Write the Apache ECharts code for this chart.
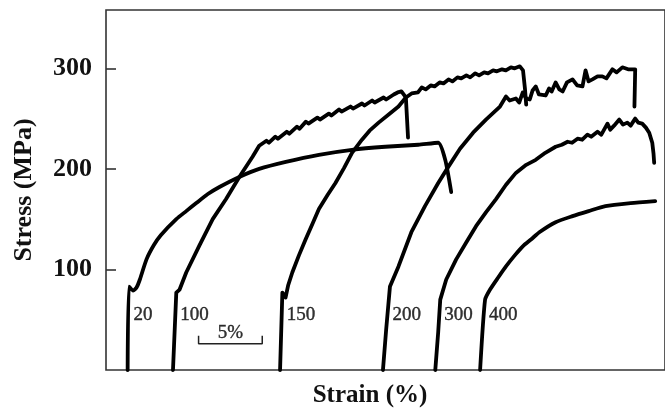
<!DOCTYPE html>
<html>
<head>
<meta charset="utf-8">
<script src="https://cdn.jsdelivr.net/npm/echarts@6/dist/echarts.min.js"></script>
<style>
  html, body { margin: 0; padding: 0; background: #fff; }
  #chart { width: 665px; height: 413px; }
</style>
</head>
<body>
<div id="chart"></div>
<script>
// Tensile stress–strain curves at several test temperatures (°C).
// Each curve is shifted along the strain axis; points are [strain %, stress MPa].
const curveNames = ['20', '100', '150', '200', '300', '400'];

const curve20 = [[1.70,0],[1.80,83],[2.13,79],[2.40,82],[2.66,90],[3.18,110],[3.75,124],[4.3,134],
  [5.52,150],[6.3,158],[7.09,166],[8.0,175],[8.91,182],[10.47,192],[12.03,200],[14.12,207],
  [16.72,214],[19.32,219],[21.93,222],[24.53,224],[26.09,226],[26.64,209],[27.11,177]];

const curve100 = [[5.26,0],[5.52,77],[5.78,80],[6.3,97],[7.34,124],[8.38,150],[9.43,170],
  [10.47,192],[11.51,212],[12.03,223],[12.6,228],[12.8,226],[13.3,232],[13.5,230],[14.2,237],
  [14.4,235],[15.0,242],[15.2,240],[15.7,247],[15.9,245],[16.6,251],[16.8,249],[17.5,255],
  [17.7,253],[18.3,259],[18.5,257],[19.2,262],[19.4,260],[20.1,265],[20.3,263],[20.9,268],
  [21.1,266],[21.8,271],[22.0,269],[22.6,274],[22.9,276],[23.2,277],[23.55,271],[23.72,231]];

const curve150 = [[13.67,0],[13.85,77],[14.1,72],[14.3,84],[14.63,97],[15.15,114],[15.68,130],
  [16.2,145],[16.72,160],[17.4,174],[18.02,186],[18.7,201],[19.32,216],[20.1,229],[20.7,238],
  [21.41,246],[22.2,254],[22.97,262],[23.55,271],[24.0,275],[24.5,276],[24.8,281],[25.1,279],
  [25.5,283],[25.8,282],[26.2,286],[26.5,285],[26.9,289],[27.2,287],[27.6,291],[27.9,290],
  [28.3,293],[28.6,291],[29.0,295],[29.3,293],[29.7,296],[30.0,295],[30.4,298],[30.7,297],
  [31.1,299],[31.4,298],[31.8,301],[32.1,300],[32.5,302],[32.75,298],[32.9,280],[33.0,264]];

const curve200 = [[21.75,0],[22.0,40],[22.3,83],[22.97,103],[23.98,137],[25.05,163],[26.09,186],
  [26.88,202],[27.8,220],[28.83,236],[29.84,249],[30.94,262],[31.41,272],[31.7,268],[32.19,270],
  [32.45,266],[32.73,276],[33.0,270],[33.28,269],[33.5,278],[33.75,282],[34.0,274],[34.53,273],
  [34.8,280],[35.0,277],[35.31,286],[35.6,279],[35.86,277],[36.2,286],[36.64,289],[37.0,283],
  [37.42,282],[37.66,298],[37.9,287],[38.2,289],[38.6,292],[38.98,292],[39.3,290],[39.77,299],
  [40.1,296],[40.55,301],[41.0,299],[41.56,299],[41.5,262]];

const curve300 = [[25.86,0],[26.09,38],[26.25,70],[26.72,90],[27.5,110],[28.3,127],[29.06,143],
  [29.85,157],[30.63,170],[31.4,184],[32.19,196],[33.0,204],[33.75,209],[34.5,216],[35.31,222],
  [35.8,224],[36.25,227],[36.6,226],[37.03,230],[37.4,229],[37.81,234],[38.1,232],[38.6,237],
  [38.9,234],[39.38,245],[39.6,239],[39.9,243],[40.31,249],[40.6,244],[40.94,246],[41.2,243],
  [41.56,250],[41.8,246],[42.11,245],[42.4,241],[42.66,236],[42.9,226],[43.0,215],[43.05,206]];

const curve400 = [[29.38,0],[29.77,70],[30.16,80],[30.8,92],[31.41,103],[32.1,114],[32.73,123],
  [33.4,130],[34.03,137],[35.31,147],[36.64,153],[37.9,158],[39.22,163],[41.2,166],[43.13,168]];

const curves = [curve20, curve100, curve150, curve200, curve300, curve400];

const stressTicks = [100, 200, 300];   // MPa
const scaleBarLength = 5;              // strain %, length of the scale bar
const scaleBarLabel = '5%';

// Strain where a curve first reaches a given stress (linear between points).
function strainAt(curve, stress) {
  for (let i = 1; i < curve.length; i++) {
    const [x0, y0] = curve[i - 1], [x1, y1] = curve[i];
    if (y1 >= stress && y0 <= stress) return x0 + (x1 - x0) * (stress - y0) / (y1 - y0);
  }
  return curve[0][0];
}

const serif = 'Liberation Serif, Times New Roman, serif';
const ink = '#000';
const frame = '#333';

const labelStress = 55;
const barStart = 7.27, barLow = 26, barHigh = 34;

// the smooth, serration-free curves get a light spline
const smoothCurves = { '20': 0.2, '400': 0.2 };

const series = curves.map((c, i) => ({
  type: 'line',
  name: curveNames[i],
  data: c,
  symbol: 'none',
  showSymbol: false,
  smooth: smoothCurves[curveNames[i]] || false,
  lineStyle: { color: ink, width: 3.8, join: 'round', cap: 'round' },
  z: 3
}));

const smallText = {
  fontFamily: serif, fontSize: 19, color: ink,
  textBorderColor: ink, textBorderWidth: 0.4
};

// temperature labels beside the foot of each curve
series.push({
  type: 'scatter',
  symbolSize: 0,
  data: curves.map((c, i) => ({ name: curveNames[i], value: [strainAt(c, labelStress), labelStress] })),
  label: Object.assign({ show: true, position: 'right', distance: 5, formatter: '{b}' }, smallText),
  z: 4
});

// strain scale bar
series.push({
  type: 'line',
  data: [[barStart, barHigh], [barStart, barLow], [barStart + scaleBarLength, barLow], [barStart + scaleBarLength, barHigh]],
  symbol: 'none',
  lineStyle: { color: '#222', width: 1.5 },
  z: 3
});
series.push({
  type: 'scatter',
  symbolSize: 0,
  data: [{ name: scaleBarLabel, value: [barStart + scaleBarLength / 2, barLow] }],
  label: Object.assign({ show: true, position: 'top', distance: 1, formatter: '{b}' }, smallText),
  z: 4
});

const chart = echarts.init(document.getElementById('chart'), null, { renderer: 'canvas' });
chart.setOption({
  animation: false,
  backgroundColor: '#fff',
  grid: {
    left: 106, top: 10, right: -3, bottom: 42,
    show: true, borderColor: frame, borderWidth: 1.6, backgroundColor: 'transparent'
  },
  xAxis: {
    type: 'value', min: 0, max: 43.9,
    axisLine: { show: false }, axisTick: { show: false },
    axisLabel: { show: false }, splitLine: { show: false },
    name: 'Strain (%)', nameLocation: 'middle', nameGap: 13,
    nameTextStyle: {
      fontFamily: serif, fontSize: 25, fontWeight: 'bold', color: '#111',
      padding: [0, 31, 0, 0]
    }
  },
  yAxis: {
    type: 'value', min: 0, max: 358,
    axisLine: { show: false },
    axisTick: {
      show: true, inside: true, length: 10, customValues: stressTicks,
      lineStyle: { color: frame, width: 1.6 }
    },
    axisLabel: {
      customValues: stressTicks, margin: 14,
      fontFamily: serif, fontSize: 26, fontWeight: 'bold', color: '#111'
    },
    splitLine: { show: false },
    name: 'Stress (MPa)', nameLocation: 'middle', nameGap: 69, nameRotate: 90,
    nameTextStyle: { fontFamily: serif, fontSize: 26, fontWeight: 'bold', color: '#111' }
  },
  series: series
});
</script>
</body>
</html>
